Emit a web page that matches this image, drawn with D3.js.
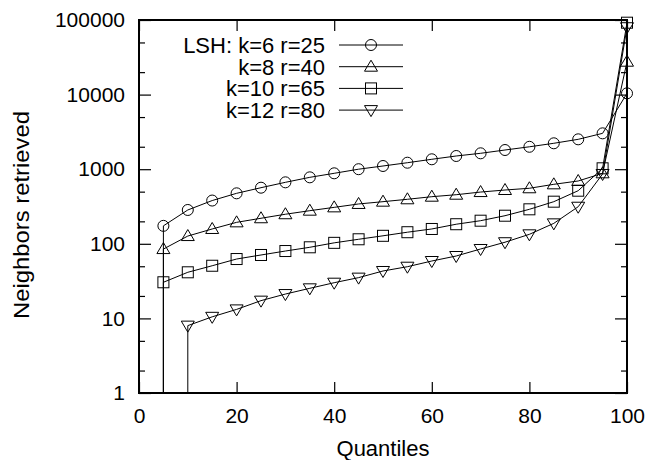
<!DOCTYPE html>
<html>
<head>
<meta charset="utf-8">
<script src="https://cdn.jsdelivr.net/npm/d3@7"></script>
<style>
  body { margin: 0; background: #fff; }
  svg { font-family: "Liberation Sans", Arial, Helvetica, sans-serif; }
</style>
</head>
<body>
<svg id="chart" width="661" height="460"></svg>
<script>
// data (0 = nothing retrieved, drawn as a drop to the axis)
const quantiles = [5, 10, 15, 20, 25, 30, 35, 40, 45, 50, 55, 60, 65, 70, 75, 80, 85, 90, 95, 100];
const k6r25 = [174, 284, 380, 475, 565, 667, 778, 881, 1000, 1104, 1222, 1358, 1503, 1633, 1808, 1997, 2225, 2515, 3025, 10400];
const k8r40 = [85, 127, 158, 194, 220, 249, 278, 308, 342, 367, 395, 428, 455, 494, 526, 555, 627, 695, 881, 27600];
const k10r65 = [30.5, 41.5, 50.8, 62.5, 70.8, 80, 89.8, 103, 115, 128, 143, 158, 183, 204, 238, 290, 367, 515, 1028, 92000];
const k12r80 = [0, 8, 10.5, 13.2, 17.3, 21.2, 25.3, 30.1, 35.2, 43.2, 49.3, 58.8, 68.6, 85.2, 105, 134, 188, 314, 863, 80000];

const seriesNames = ["LSH: k=6 r=25", "k=8 r=40", "k=10 r=65", "k=12 r=80"];
const seriesMarkers = ["circle", "triangleUp", "square", "triangleDown"];
const seriesValues = [k6r25, k8r40, k10r65, k12r80];

const xTicks = [0, 20, 40, 60, 80, 100];
const yTicks = [1, 10, 100, 1000, 10000, 100000];
const yMinorTicks = [2, 5, 20, 50, 200, 500, 2000, 5000, 20000, 50000];

const margin = {left: 139, right: 627, top: 20, bottom: 393};
const svg = d3.select("#chart");

const x = d3.scaleLinear().domain([0, 100]).range([margin.left, margin.right]);
const y = d3.scaleLog().domain([1, 100000]).range([margin.bottom, margin.top]);

function drawMarker(g, type, cx, cy) {
    const s = 5.5;
    let sel;
    if (type === "circle") {
        sel = g.append("circle").attr("cx", cx).attr("cy", cy).attr("r", s);
    } else if (type === "square") {
        sel = g.append("rect").attr("x", cx - s).attr("y", cy - s).attr("width", 2 * s).attr("height", 2 * s);
    } else {
        const d = type === "triangleUp" ? -1 : 1;
        const p = [[cx, cy + d * 6.5], [cx - 6.5, cy - d * 4.5], [cx + 6.5, cy - d * 4.5]];
        sel = g.append("path").attr("d", "M" + p.join("L") + "Z");
    }
    sel.attr("fill", "none").attr("stroke", "#000").attr("stroke-width", 1);
}

// axes, ticks point inwards like gnuplot
function styleAxis(g) {
    g.select(".domain").remove();
    g.selectAll("line").attr("stroke", "#000").attr("stroke-width", 1.2);
    g.selectAll("text").attr("font-size", 21).attr("fill", "#000");
}

svg.append("g").attr("transform", `translate(0,${margin.bottom})`)
    .call(d3.axisBottom(x).tickValues(xTicks).tickSize(-11).tickPadding(15).tickFormat(d3.format("d")))
    .call(styleAxis);
svg.append("g").attr("transform", `translate(0,${margin.top})`)
    .call(d3.axisTop(x).tickValues(xTicks).tickSize(-11).tickFormat(""))
    .call(styleAxis);
svg.append("g").attr("transform", `translate(${margin.left},0)`)
    .call(d3.axisLeft(y).tickValues(yTicks).tickSize(-12).tickPadding(14).tickFormat(d3.format("d")))
    .call(styleAxis);
svg.append("g").attr("transform", `translate(${margin.left},0)`)
    .call(d3.axisLeft(y).tickValues(yMinorTicks).tickSize(-6).tickFormat(""))
    .call(styleAxis);
svg.append("g").attr("transform", `translate(${margin.right},0)`)
    .call(d3.axisRight(y).tickValues(yTicks).tickSize(-12).tickFormat(""))
    .call(styleAxis);
svg.append("g").attr("transform", `translate(${margin.right},0)`)
    .call(d3.axisRight(y).tickValues(yMinorTicks).tickSize(-6).tickFormat(""))
    .call(styleAxis);

svg.append("rect")
    .attr("x", margin.left).attr("y", margin.top)
    .attr("width", margin.right - margin.left).attr("height", margin.bottom - margin.top)
    .attr("fill", "none").attr("stroke", "#000").attr("stroke-width", 2);

// axis titles
svg.append("text").attr("x", x(50)).attr("y", 456).attr("text-anchor", "middle")
    .attr("font-size", 22).text("Quantiles");
svg.append("text").attr("transform", "translate(29,215) rotate(-90)").attr("text-anchor", "middle")
    .attr("font-size", 22).attr("textLength", 208).attr("lengthAdjust", "spacingAndGlyphs")
    .text("Neighbors retrieved");

// series
const line = d3.line().x(d => x(d[0])).y(d => y(d[1]));
seriesValues.forEach((vals, i) => {
    const g = svg.append("g");
    const pts = quantiles.map((q, j) => [q, vals[j]]).filter(d => d[1] > 0);
    // drop from the first non-zero point down to the axis
    g.append("line")
        .attr("x1", x(pts[0][0])).attr("x2", x(pts[0][0]))
        .attr("y1", y(pts[0][1])).attr("y2", y(1))
        .attr("stroke", "#000").attr("stroke-width", 1);
    g.append("path").attr("d", line(pts))
        .attr("fill", "none").attr("stroke", "#000").attr("stroke-width", 1);
    pts.forEach(d => drawMarker(g, seriesMarkers[i], x(d[0]), y(d[1])));
});

// legend
const legend = svg.append("g");
seriesNames.forEach((name, i) => {
    const ly = 45 + i * 21.7;
    legend.append("text").attr("x", 325).attr("y", ly).attr("dy", "0.36em")
        .attr("text-anchor", "end").attr("font-size", 22).text(name);
    legend.append("line").attr("x1", 339).attr("x2", 403).attr("y1", ly).attr("y2", ly)
        .attr("stroke", "#000").attr("stroke-width", 1);
    drawMarker(legend, seriesMarkers[i], 371, ly);
});
</script>
</body>
</html>
